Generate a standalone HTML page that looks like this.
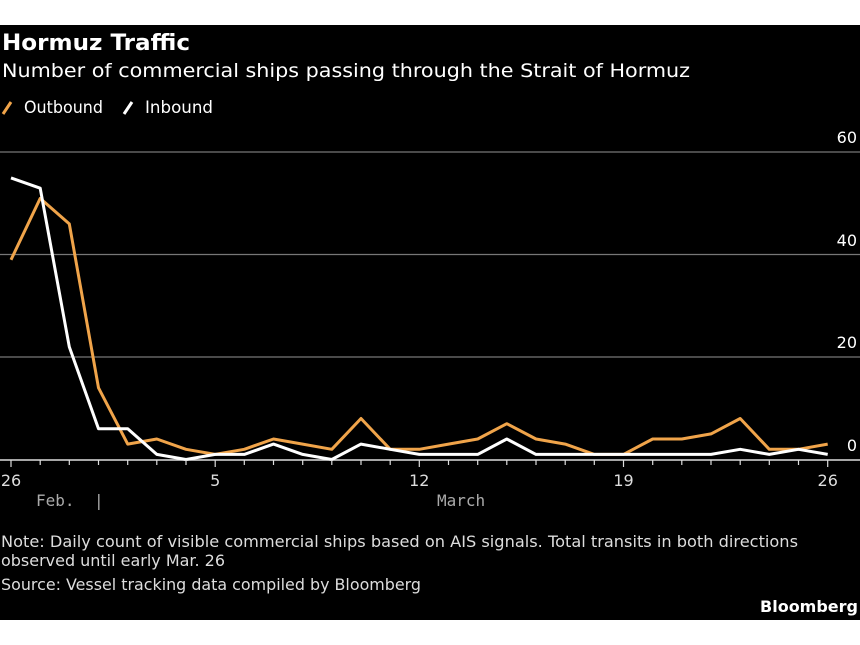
<!DOCTYPE html>
<html><head><style>body{margin:0;background:#fff}svg{display:block}</style></head><body>
<svg width="860" height="645" xmlns="http://www.w3.org/2000/svg" font-family="DejaVu Sans, Liberation Sans, sans-serif">
<rect x="0" y="25" width="860" height="595" fill="#000"/>
<text x="2" y="50" fill="#fff" font-size="22" font-weight="bold" textLength="188" lengthAdjust="spacingAndGlyphs">Hormuz Traffic</text>
<text x="2" y="77" fill="#fff" font-size="19" textLength="688" lengthAdjust="spacingAndGlyphs">Number of commercial ships passing through the Strait of Hormuz</text>
<line x1="3" y1="114" x2="11" y2="102" stroke="#f0a44a" stroke-width="3"/>
<text x="24" y="113" fill="#fff" font-size="17" textLength="79" lengthAdjust="spacingAndGlyphs">Outbound</text>
<line x1="124" y1="114" x2="132" y2="102" stroke="#fff" stroke-width="3"/>
<text x="145" y="113" fill="#fff" font-size="17" textLength="68" lengthAdjust="spacingAndGlyphs">Inbound</text>
<g stroke="#777" stroke-width="1.2">
<line x1="0" y1="152" x2="860" y2="152"/><line x1="0" y1="254.5" x2="860" y2="254.5"/><line x1="0" y1="357" x2="860" y2="357"/>
</g>
<g fill="#fff" font-size="16" text-anchor="end">
<text x="857" y="143">60</text><text x="857" y="246">40</text><text x="857" y="348">20</text><text x="857" y="451">0</text>
</g>
<line x1="0" y1="460" x2="860" y2="460" stroke="#ddd" stroke-width="1.5"/>
<g stroke="#ddd" stroke-width="1.2" id="ticks"></g>
<polyline fill="none" stroke="#f0a44a" stroke-width="3" stroke-linejoin="round" points="11,259.8 40.2,198.4 69.3,223.9 98.5,387.8 127.7,444.1 156.8,439 186,449.3 215.2,454.4 244.3,449.3 273.5,439 302.7,444.1 331.8,449.3 361,418.5 390.2,449.3 419.3,449.3 448.5,444.1 477.7,439 506.8,423.7 536,439 565.2,444.1 594.3,454.4 623.5,454.4 652.7,439 681.8,439 711,433.9 740.2,418.5 769.3,449.3 798.5,449.3 827.7,444.1"/>
<polyline fill="none" stroke="#fff" stroke-width="3" stroke-linejoin="round" points="11,177.9 40.2,188.2 69.3,346.9 98.5,428.8 127.7,428.8 156.8,454.4 186,459.5 215.2,454.4 244.3,454.4 273.5,444.1 302.7,454.4 331.8,459.5 361,444.1 390.2,449.3 419.3,454.4 448.5,454.4 477.7,454.4 506.8,439 536,454.4 565.2,454.4 594.3,454.4 623.5,454.4 652.7,454.4 681.8,454.4 711,454.4 740.2,449.3 769.3,454.4 798.5,449.3 827.7,454.4"/>
<g stroke="#ddd" stroke-width="1.2">
<line x1="11" y1="460" x2="11" y2="467"/><line x1="40.2" y1="460" x2="40.2" y2="465"/><line x1="69.3" y1="460" x2="69.3" y2="465"/><line x1="98.5" y1="460" x2="98.5" y2="465"/><line x1="127.7" y1="460" x2="127.7" y2="465"/><line x1="156.8" y1="460" x2="156.8" y2="465"/><line x1="186" y1="460" x2="186" y2="465"/><line x1="215.2" y1="460" x2="215.2" y2="467"/><line x1="244.3" y1="460" x2="244.3" y2="465"/><line x1="273.5" y1="460" x2="273.5" y2="465"/><line x1="302.7" y1="460" x2="302.7" y2="465"/><line x1="331.8" y1="460" x2="331.8" y2="465"/><line x1="361" y1="460" x2="361" y2="465"/><line x1="390.2" y1="460" x2="390.2" y2="465"/><line x1="419.3" y1="460" x2="419.3" y2="467"/><line x1="448.5" y1="460" x2="448.5" y2="465"/><line x1="477.7" y1="460" x2="477.7" y2="465"/><line x1="506.8" y1="460" x2="506.8" y2="465"/><line x1="536" y1="460" x2="536" y2="465"/><line x1="565.2" y1="460" x2="565.2" y2="465"/><line x1="594.3" y1="460" x2="594.3" y2="465"/><line x1="623.5" y1="460" x2="623.5" y2="467"/><line x1="652.7" y1="460" x2="652.7" y2="465"/><line x1="681.8" y1="460" x2="681.8" y2="465"/><line x1="711" y1="460" x2="711" y2="465"/><line x1="740.2" y1="460" x2="740.2" y2="465"/><line x1="769.3" y1="460" x2="769.3" y2="465"/><line x1="798.5" y1="460" x2="798.5" y2="465"/><line x1="827.7" y1="460" x2="827.7" y2="467"/>
</g>
<g fill="#ddd" font-size="16" text-anchor="middle">
<text x="11" y="486">26</text><text x="215.2" y="486">5</text><text x="419.3" y="486">12</text><text x="623.5" y="486">19</text><text x="827.7" y="486">26</text>
</g>
<g fill="#aaa" font-size="16" font-family="DejaVu Sans Mono, Liberation Mono, monospace">
<text x="36" y="506">Feb.</text><text x="94" y="506">|</text><text x="437" y="506">March</text>
</g>
<g fill="#ddd" font-size="16">
<text x="1" y="547" textLength="797" lengthAdjust="spacingAndGlyphs">Note: Daily count of visible commercial ships based on AIS signals. Total transits in both directions</text>
<text x="1" y="566" textLength="224" lengthAdjust="spacingAndGlyphs">observed until early Mar. 26</text>
<text x="1" y="590" textLength="420" lengthAdjust="spacingAndGlyphs">Source: Vessel tracking data compiled by Bloomberg</text>
</g>
<text x="858" y="612" fill="#fff" font-size="16" font-weight="bold" text-anchor="end">Bloomberg</text>
</svg>
</body></html>
